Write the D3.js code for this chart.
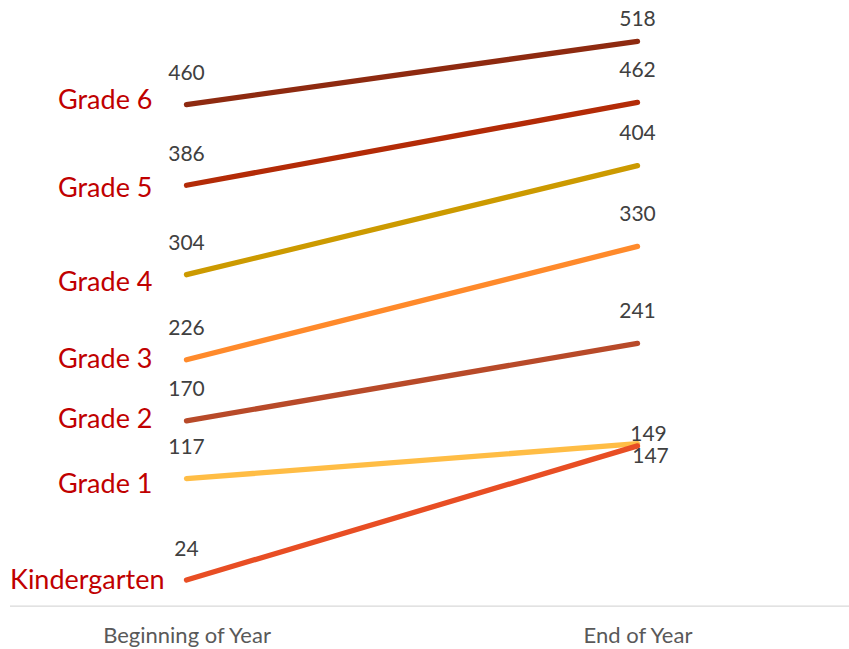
<!DOCTYPE html>
<html>
<head>
<meta charset="utf-8">
<script src="https://cdn.jsdelivr.net/npm/d3@7"></script>
<style>
  html, body { margin: 0; padding: 0; background: #fff; }
  svg { display: block; }
</style>
</head>
<body>
<svg id="chart" width="849" height="649"></svg>
<script>
// Enrolment at the beginning and end of the year, by grade
const grades = ["Grade 6", "Grade 5", "Grade 4", "Grade 3", "Grade 2", "Grade 1", "Kindergarten"];
const periods = ["Beginning of Year", "End of Year"];
const beginValues = [460, 386, 304, 226, 170, 117, 24];
const endValues = [518, 462, 404, 330, 241, 149, 147];
const lineColors = ["#8E2A10", "#B32B07", "#CC9A00", "#FF8A2B", "#B84A29", "#FFBD45", "#E84E24"];

// Small per-label nudges so crowded labels stay readable
const nameNudge = [4, 12, 16, 8, 7, 14, 9];
const endLabelNudge = [[0, 0], [0, 0], [0, 0], [0, 0], [0, 0], [11, 23], [13, 43]];

const svg = d3.select("#chart");
const W = 849, H = 649;

const x = d3.scalePoint().domain(periods).range([186.5, 637.5]);
const y = d3.scaleLinear().domain([0, 550]).range([606.2, 606.2 - 550 * 1.0905]);

const series = grades.map((g, i) => ({
  name: g,
  color: lineColors[i],
  values: [beginValues[i], endValues[i]]
}));

// Category axis baseline
svg.append("line")
  .attr("x1", 10).attr("x2", W)
  .attr("y1", y(0)).attr("y2", y(0))
  .attr("stroke", "#d9d9d9").attr("stroke-width", 1.3);

// Category axis labels
const xAxis = d3.axisBottom(x).tickSize(0).tickPadding(0);
const axisG = svg.append("g").attr("transform", `translate(0,${y(0)})`).call(xAxis);
axisG.select(".domain").remove();
axisG.selectAll("text")
  .attr("dy", null)
  .attr("y", 37)
  .attr("font-family", "Lato, 'Open Sans', sans-serif")
  .attr("font-size", 22)
  .attr("fill", "#595959");

const line = d3.line()
  .x((d, i) => x(periods[i]))
  .y(d => y(d));

// Slope lines
svg.append("g").selectAll("path")
  .data(series)
  .join("path")
  .attr("d", d => line(d.values))
  .attr("fill", "none")
  .attr("stroke", d => d.color)
  .attr("stroke-width", 5.3)
  .attr("stroke-linecap", "round");

const labelFont = "Lato, 'Open Sans', sans-serif";

// Value labels above each end of every line
const valG = svg.append("g")
  .attr("font-family", labelFont)
  .attr("font-size", 21)
  .attr("fill", "#404040")
  .attr("text-anchor", "middle");

series.forEach((s, i) => {
  valG.append("text")
    .attr("x", x(periods[0]))
    .attr("y", y(s.values[0]) - 24.5)
    .text(s.values[0]);
  const [dx, dy] = endLabelNudge[i];
  valG.append("text")
    .attr("x", x(periods[1]) + dx)
    .attr("y", Math.max(y(s.values[1]) - 25.5, 26) + dy)
    .text(s.values[1]);
});

// Series names to the left of each line
const nameG = svg.append("g")
  .attr("font-family", labelFont)
  .attr("font-size", 27)
  .attr("fill", "#C00000");

series.forEach((s, i) => {
  const t = nameG.append("text")
    .attr("y", y(s.values[0]) + nameNudge[i])
    .text(s.name);
  const w = t.node().getComputedTextLength();
  const right = x(periods[0]) - 34;
  t.attr("x", Math.max(right - w, 10));
});
</script>
</body>
</html>
